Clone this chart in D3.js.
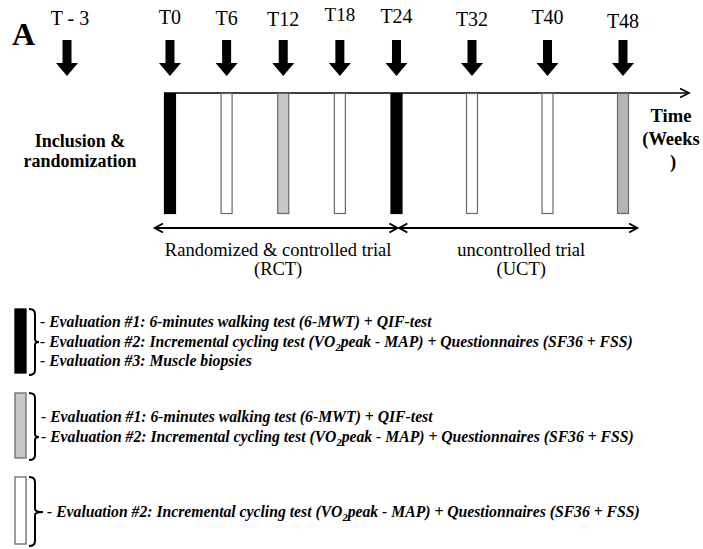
<!DOCTYPE html>
<html><head><meta charset="utf-8">
<script src="https://cdn.jsdelivr.net/npm/d3@7"></script>
</head>
<body style="margin:0;background:#fff">
<script>
// ---- data ----
const timeLabels = ["T - 3","T0","T6","T12","T18","T24","T32","T40","T48"];
const timeWeeks  = [-3, 0, 6, 12, 18, 24, 32, 40, 48];
// evaluation type of the bar at each time point (null = no bar)
const barTypes   = [null, "black","white","gray","white","black","white","white","gray"];
const axisEndWeek = 55;
const periodNames  = ["Randomized & controlled trial", "uncontrolled trial"];
const periodAbbrs  = ["(RCT)", "(UCT)"];
const periodStarts = [-1.6, 24.3];
const periodEnds   = [24.1, 49.5];
const legendTypes = ["black","gray","white"];
const legendLines = [
  ["#1","#2","#3"],
  ["#1","#2"],
  ["#2"]
];
const evalTexts = {
  "#1": ["- Evaluation #1: 6-minutes walking test (6-MWT) + QIF-test"],
  "#2": ["- Evaluation #2: Incremental cycling test (VO", "2", "peak - MAP) + Questionnaires (SF36 + FSS)"],
  "#3": ["- Evaluation #3: Muscle biopsies"]
};

// ---- styles ----
const fills = {black:"#000", gray:"#c8c8c8", white:"#fff"};
const strokes = {black:"#000", gray:"#6a6a6a", white:"#6a6a6a"};
const FONT = '"Liberation Serif"';

const W = 703, H = 549;
const svg = d3.select("body").append("svg").attr("width", W).attr("height", H).style("display","block");
svg.append("rect").attr("width", W).attr("height", H).attr("fill", "#fff");

// weeks scale: the pre-inclusion week (T-3) sits apart, the study period is linear
const x = d3.scaleLinear().domain([-3, -2, 48]).range([67, 151.1, 623]);

const txt = (sel) => sel.style("font-family", FONT);

// Panel letter
txt(svg.append("text")).attr("x", 12).attr("y", 45)
  .style("font-weight", "bold").style("font-size", "32px").text("A");

// time labels
const labelDy = [0, -1, 0, 1, -4, -2, 1, -1, 3];
txt(svg.selectAll("text.tl").data(timeLabels).enter().append("text"))
  .attr("class","tl")
  .attr("x", (d,i) => x(timeWeeks[i]) + (i===0?3:0))
  .attr("y", (d,i) => 25 + labelDy[i])
  .attr("text-anchor","middle").style("font-size", (d,i)=> i===4 ? "19px" : "20px")
  .text(d => d);

// down arrows
const arrowPath = cx => {
  const top = 40, neck = 63, tip = 76, sw = 4.5, hw = 11;
  return `M${cx-sw},${top}L${cx+sw},${top}L${cx+sw},${neck}L${cx+hw},${neck}L${cx},${tip}L${cx-hw},${neck}L${cx-sw},${neck}Z`;
};
svg.selectAll("path.dn").data(timeWeeks).enter().append("path")
  .attr("class","dn").attr("d", w => arrowPath(x(w))).attr("fill","#000");

// timeline axis
const yAxis = 93;
const bw = 12;
svg.append("line").attr("x1", x(0)-bw/2).attr("x2", x(axisEndWeek)).attr("y1", yAxis).attr("y2", yAxis)
  .attr("stroke","#000").attr("stroke-width",1.3);
svg.append("path")
  .attr("d", `M${x(axisEndWeek)-9},${yAxis-4.5}L${x(axisEndWeek)},${yAxis}L${x(axisEndWeek)-9},${yAxis+4.5}`)
  .attr("fill","none").attr("stroke","#000").attr("stroke-width",1.6);

// bars
const barData = timeWeeks.map((w,i)=>({w, t: barTypes[i]})).filter(d=>d.t);
svg.selectAll("rect.bar").data(barData).enter().append("rect")
  .attr("class","bar")
  .attr("x", d => x(d.w)-bw/2 + 0.5).attr("y", yAxis+0.5)
  .attr("width", bw-1).attr("height", 120)
  .attr("fill", d => d.w===48 ? "#b4b4b4" : fills[d.t])
  .attr("stroke", d => strokes[d.t]).attr("stroke-width", 1.2);

// period arrows
const yP = 228;
periodNames.forEach((name,i) => {
  const a = x(periodStarts[i]), b = x(periodEnds[i]);
  svg.append("line").attr("x1",a).attr("x2",b).attr("y1",yP).attr("y2",yP)
    .attr("stroke","#000").attr("stroke-width",2);
  svg.append("path").attr("d",`M${a+8},${yP-4.5}L${a},${yP}L${a+8},${yP+4.5}`)
    .attr("fill","none").attr("stroke","#000").attr("stroke-width",2);
  svg.append("path").attr("d",`M${b-8},${yP-4.5}L${b},${yP}L${b-8},${yP+4.5}`)
    .attr("fill","none").attr("stroke","#000").attr("stroke-width",2);
  const cx = (a+b)/2 + (i===1?3:2);
  txt(svg.append("text")).attr("x",cx).attr("y",256).attr("text-anchor","middle")
    .style("font-size","18.5px").text(name);
  txt(svg.append("text")).attr("x",cx).attr("y",275).attr("text-anchor","middle")
    .style("font-size","18.5px").text(periodAbbrs[i]);
});

// Inclusion & randomization
txt(svg.append("text")).attr("x",80).attr("y",147).attr("text-anchor","middle")
  .style("font-weight","bold").style("font-size","18px").text("Inclusion &");
txt(svg.append("text")).attr("x",80).attr("y",167).attr("text-anchor","middle")
  .style("font-weight","bold").style("font-size","18px").text("randomization");

// Time (Weeks)
["Time","(Weeks",")"].forEach((t,i)=>{
  txt(svg.append("text")).attr("x", i===2?673:671).attr("y", 122 + i*23).attr("text-anchor","middle")
    .style("font-weight","bold").style("font-size","18.5px").text(t);
});

// legend
const legTops = [309, 393, 477];
const legHeights = [64, 65, 67];
const legNotch = [342, 437, 512];
const legLineY = [[327,347,366],[422,442],[517]];
const legTextX = [40, 41, 47];
legendTypes.forEach((t,i)=>{
  const top = legTops[i], h = legHeights[i];
  svg.append("rect").attr("x",15).attr("y",top).attr("width",11).attr("height",h)
    .attr("fill",fills[t]).attr("stroke",strokes[t]).attr("stroke-width",1.3);
  const bx = 35, n = legNotch[i], b = top+h+2, tp = top;
  svg.append("path")
    .attr("d",`M29,${tp}Q35,${tp} ${bx},${tp+5}L${bx},${n-3}Q${bx},${n} ${bx+(i===2?8:4)},${n}Q${bx},${n} ${bx},${n+3}L${bx},${b-5}Q35,${b} 29,${b}`)
    .attr("fill","none").attr("stroke","#000").attr("stroke-width",2);
  legendLines[i].forEach((k,j)=>{
    const parts = evalTexts[k];
    const tx = txt(svg.append("text")).attr("x",legTextX[i]).attr("y",legLineY[i][j])
      .style("font-weight","bold").style("font-style","italic")
      .style("font-size","15.7px");
    if (parts.length===1) tx.text(parts[0]);
    else {
      tx.append("tspan").text(parts[0]);
      tx.append("tspan").attr("dy",4).style("font-size","10.5px").text(parts[1]);
      tx.append("tspan").attr("dy",-4).text(parts[2]);
    }
  });
});
</script>
</body></html>
